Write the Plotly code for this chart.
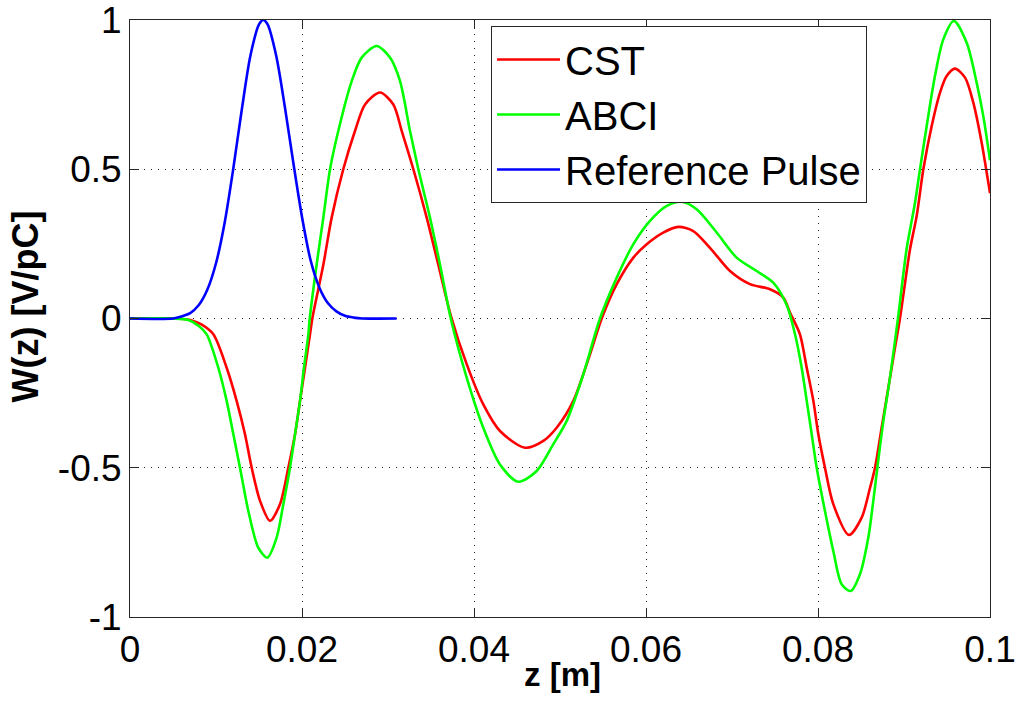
import plotly.graph_objects as go

# ---- data ----
cst_z = [0, 0.005, 0.0070, 0.0083, 0.00969, 0.01124, 0.0124, 0.01337, 0.01415, 0.01512,
         0.01628, 0.01744, 0.01841, 0.01919, 0.01977, 0.02035, 0.02093, 0.0212, 0.02248,
         0.02345, 0.0248, 0.02616, 0.02733, 0.02907, 0.03062, 0.0316, 0.03295, 0.0345,
         0.03585, 0.0373, 0.03915, 0.04108, 0.04302, 0.04593, 0.04806, 0.04961, 0.05155,
         0.05349, 0.05485, 0.0566, 0.05853, 0.06008, 0.06201, 0.06376, 0.0655, 0.06744,
         0.06977, 0.07209, 0.07442, 0.07597, 0.07674, 0.0779, 0.07869, 0.07946, 0.08004,
         0.08081, 0.08178, 0.0836, 0.08508, 0.08605, 0.08663, 0.0874, 0.08818, 0.08895,
         0.08953, 0.0907, 0.09147, 0.09225, 0.09322, 0.09419, 0.09496, 0.09593, 0.0971,
         0.09806, 0.09903, 0.1]
cst_w = [0, 0, -0.005, -0.02, -0.053, -0.165, -0.276, -0.388, -0.5, -0.611,
         -0.678, -0.622, -0.5, -0.388, -0.276, -0.165, -0.053, 0.0, 0.18,
         0.338, 0.5, 0.628, 0.717, 0.757, 0.717, 0.628, 0.5, 0.338,
         0.18, 0.01, -0.153, -0.288, -0.377, -0.433, -0.41, -0.366, -0.276,
         -0.12, 0.0, 0.115, 0.204, 0.249, 0.288, 0.307, 0.293, 0.237,
         0.159, 0.115, 0.098, 0.07, 0.02, -0.053, -0.165, -0.276, -0.388,
         -0.5, -0.622, -0.725, -0.667, -0.567, -0.5, -0.366, -0.232, -0.098,
         0.0, 0.232, 0.343, 0.5, 0.645, 0.757, 0.812, 0.837, 0.807,
         0.723, 0.589, 0.42]

abci_z = [0, 0.005, 0.0068, 0.0080, 0.00892, 0.01027, 0.01124, 0.01202, 0.01279, 0.01376,
          0.01492, 0.01597, 0.01705, 0.01783, 0.0186, 0.01919, 0.01977, 0.02023, 0.02074,
          0.0209, 0.0217, 0.02248, 0.02326, 0.02422, 0.02578, 0.02694, 0.02868, 0.03023,
          0.0314, 0.03256, 0.03353, 0.03488, 0.03605, 0.0373, 0.03915, 0.04108, 0.04302,
          0.04515, 0.04729, 0.04922, 0.05078, 0.05271, 0.05465, 0.0566, 0.05853, 0.06047,
          0.06241, 0.06415, 0.06589, 0.06822, 0.07054, 0.07287, 0.0748, 0.07636, 0.07733,
          0.0781, 0.07869, 0.07927, 0.07985, 0.08081, 0.08178, 0.08275, 0.0838, 0.08488,
          0.08585, 0.08643, 0.0869, 0.0876, 0.08837, 0.0893, 0.0903, 0.09128, 0.09186,
          0.09264, 0.0936, 0.09457, 0.0958, 0.09729, 0.09845, 0.09922, 0.1]
abci_w = [0, 0, -0.005, -0.025, -0.053, -0.165, -0.276, -0.388, -0.5, -0.645,
          -0.768, -0.801, -0.734, -0.622, -0.5, -0.388, -0.276, -0.165, -0.053,
          0.0, 0.18, 0.338, 0.5, 0.628, 0.795, 0.874, 0.913, 0.874,
          0.795, 0.628, 0.5, 0.338, 0.18, 0.0, -0.198, -0.366, -0.489,
          -0.547, -0.511, -0.421, -0.343, -0.187, 0.0, 0.137, 0.249, 0.327,
          0.377, 0.391, 0.366, 0.288, 0.204, 0.159, 0.12, 0.045, -0.053,
          -0.165, -0.276, -0.388, -0.5, -0.645, -0.779, -0.89, -0.913, -0.857,
          -0.734, -0.611, -0.5, -0.343, -0.198, 0.0, 0.232, 0.388, 0.5,
          0.645, 0.812, 0.935, 0.997, 0.924, 0.79, 0.678, 0.53]

pulse_z = [0, 0.005, 0.006, 0.007, 0.008, 0.009, 0.010, 0.011, 0.012, 0.013, 0.014,
           0.015, 0.0155, 0.016, 0.017, 0.018, 0.019, 0.020, 0.021, 0.022, 0.023,
           0.024, 0.025, 0.026, 0.027, 0.031]
pulse_w = [0, 0.0, 0.007, 0.018, 0.045, 0.097, 0.185, 0.32, 0.50, 0.70, 0.88,
           0.985, 1.0, 0.985, 0.88, 0.71, 0.52, 0.34, 0.195, 0.105, 0.052,
           0.024, 0.009, 0.003, 0.0, 0.0]

series_names = ["CST", "ABCI", "Reference Pulse"]
x_ticks = [0, 0.02, 0.04, 0.06, 0.08, 0.1]
x_tick_text = ["0", "0.02", "0.04", "0.06", "0.08", "0.1"]
y_ticks = [-1, -0.5, 0, 0.5, 1]
y_tick_text = ["-1", "-0.5", "0", "0.5", "1"]
x_title = "z [m]"
y_title = "W(z) [V/pC]"

FONT = "Liberation Sans, Arial, sans-serif"

fig = go.Figure()
for z, w, name, col in [(cst_z, cst_w, series_names[0], "#ff0000"),
                        (abci_z, abci_w, series_names[1], "#00ff00"),
                        (pulse_z, pulse_w, series_names[2], "#0000ff")]:
    fig.add_trace(go.Scatter(x=z, y=w, name=name, mode="lines",
                             line=dict(color=col, width=2.6, shape="spline", smoothing=0.8)))

axis_common = dict(
    showline=True, linecolor="#262626", linewidth=1, mirror="ticks",
    ticks="inside", ticklen=9, tickcolor="#262626", tickwidth=1,
    showgrid=True, gridcolor="#262626", gridwidth=1, griddash="1px,6px",
    zeroline=False, tickfont=dict(family=FONT, size=37, color="black"),
    ticklabeloverflow="allow", automargin=False,
)

fig.update_xaxes(range=[0, 0.1], tickvals=x_ticks, ticktext=x_tick_text, **axis_common)
fig.update_yaxes(range=[-1, 1], tickvals=y_ticks, ticktext=y_tick_text, **axis_common)

fig.add_annotation(text="<b>" + x_title + "</b>", xref="paper", yref="paper",
                   x=0.503, y=-0.097, xanchor="center", yanchor="middle", showarrow=False,
                   font=dict(family=FONT, size=33, color="black"))
fig.add_annotation(text="<b>" + y_title + "</b>", xref="paper", yref="paper",
                   x=-0.121, y=0.52, xanchor="center", yanchor="middle", showarrow=False,
                   textangle=-90, font=dict(family=FONT, size=36, color="black"))

fig.update_layout(
    width=1017, height=709,
    margin=dict(l=130, r=27, t=20, b=92, autoexpand=False),
    paper_bgcolor="white", plot_bgcolor="white",
    showlegend=True,
    legend=dict(x=0.4198, y=0.99, xanchor="left", yanchor="top",
                bgcolor="white", bordercolor="#262626", borderwidth=1,
                itemwidth=63,
                font=dict(family=FONT, size=40, color="black")),
)

fig.write_html("out.html")
